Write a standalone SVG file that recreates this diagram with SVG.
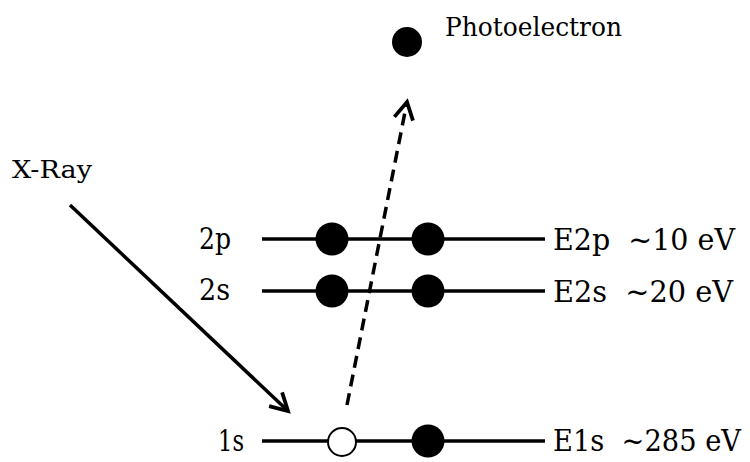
<svg xmlns="http://www.w3.org/2000/svg" width="750" height="462" viewBox="0 0 750 462">
<defs>
<marker id="ah" viewBox="0 0 12 12" refX="10" refY="6" markerWidth="6.5" markerHeight="6.5" markerUnits="strokeWidth" orient="auto">
<path d="M1,1 L10,6 L1,11" fill="none" stroke="#000" stroke-width="2"/>
</marker>
<style>
.lv{stroke:#000;stroke-width:3.5}
.e{fill:#000}
</style>
</defs>
<rect width="750" height="462" fill="#fff"/>
<g id="level-2p" font-family="DejaVu Serif, serif">
<line class="lv" x1="262" y1="239" x2="545" y2="239"/>
<circle class="e" cx="332" cy="239" r="16.5"/>
<circle class="e" cx="428" cy="239" r="16.5"/>
<text x="199" y="249" font-size="30" textLength="32" lengthAdjust="spacingAndGlyphs">2p</text>
<text x="553" y="250" font-size="30" xml:space="preserve" textLength="182" lengthAdjust="spacingAndGlyphs">E2p  ~10 eV</text>
</g>
<g id="level-2s" font-family="DejaVu Serif, serif">
<line class="lv" x1="262" y1="291" x2="545" y2="291"/>
<circle class="e" cx="332" cy="291" r="16.5"/>
<circle class="e" cx="428" cy="291" r="16.5"/>
<text x="199" y="300" font-size="30" textLength="31" lengthAdjust="spacingAndGlyphs">2s</text>
<text x="553" y="302" font-size="30" xml:space="preserve" textLength="180" lengthAdjust="spacingAndGlyphs">E2s  ~20 eV</text>
</g>
<g id="level-1s" font-family="DejaVu Serif, serif">
<line class="lv" x1="262" y1="441" x2="545" y2="441"/>
<circle cx="342" cy="442" r="14" fill="#fff" stroke="#000" stroke-width="2"/>
<circle class="e" cx="428" cy="441" r="16.5"/>
<text x="218" y="451" font-size="29" textLength="26" lengthAdjust="spacingAndGlyphs">1s</text>
<text x="553" y="451" font-size="29" xml:space="preserve" textLength="188" lengthAdjust="spacingAndGlyphs">E1s  ~285 eV</text>
</g>
<g id="photoelectron" font-family="DejaVu Serif, serif">
<circle class="e" cx="407" cy="42" r="15"/>
<text x="445" y="36" font-size="26" textLength="177" lengthAdjust="spacingAndGlyphs">Photoelectron</text>
</g>
<g id="xray" font-family="DejaVu Serif, serif">
<text x="12" y="178" font-size="25" textLength="80" lengthAdjust="spacingAndGlyphs">X-Ray</text>
</g>
<g id="connectors">
<line x1="70" y1="205" x2="288" y2="411" stroke="#000" stroke-width="3.5" marker-end="url(#ah)"/>
<line x1="347" y1="405" x2="407" y2="102" stroke="#000" stroke-width="3.5" stroke-dasharray="12,7" marker-end="url(#ah)"/>
</g>
</svg>
